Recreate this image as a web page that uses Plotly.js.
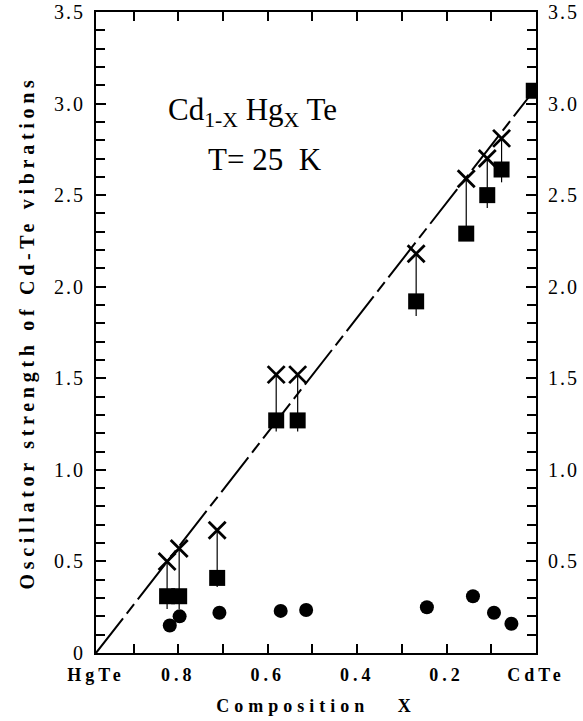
<!DOCTYPE html>
<html>
<head>
<meta charset="utf-8">
<script src="https://cdn.plot.ly/plotly-3.0.1.min.js"></script>
<style>
  html, body { margin: 0; padding: 0; background: #fff; }
  #chart { width: 583px; height: 721px; }
  .xtick text { letter-spacing: 4px; font-family: 'Liberation Serif', serif !important; font-weight: bold !important; }
  .ytick text, .y2tick text { letter-spacing: 2px; font-family: 'Liberation Serif', serif !important; }
  text.xtitle { letter-spacing: 5px; font-family: 'Liberation Serif', serif !important; font-weight: bold !important; }
  text.ytitle { letter-spacing: 4.7px; font-family: 'Liberation Serif', serif !important; font-weight: bold !important; }
  .annotation-text { font-family: 'Liberation Serif', serif !important; }
</style>
</head>
<body>
<div id="chart"></div>
<script>
// Composition X (1 = HgTe, 0 = CdTe)
var crossX  = [0.825, 0.798, 0.713, 0.581, 0.533, 0.268, 0.156, 0.109, 0.077];
var crossY  = [0.50, 0.57, 0.67, 1.52, 1.52, 2.18, 2.59, 2.70, 2.81];

var squareX = [0.825, 0.798, 0.713, 0.581, 0.533, 0.268, 0.156, 0.109, 0.077, 0.005];
var squareY = [0.31, 0.31, 0.41, 1.27, 1.27, 1.92, 2.29, 2.50, 2.64, 3.07];
var squareLow = [0.24, 0.24, 0.36, 1.21, 1.21, 1.84, 2.29, 2.43, 2.57, 3.07];

var circleX = [0.819, 0.797, 0.708, 0.571, 0.514, 0.244, 0.141, 0.094, 0.055];
var circleY = [0.15, 0.20, 0.22, 0.23, 0.235, 0.25, 0.31, 0.22, 0.16];

var fitX = [0.984, 0.005];
var fitY = [0, 3.07];

var xTickVals = [0.984, 0.8, 0.6, 0.4, 0.2, 0];
var xTickText = ['HgTe', '0.8', '0.6', '0.4', '0.2', 'CdTe'];
var yTickVals = [0, 0.5, 1.0, 1.5, 2.0, 2.5, 3.0, 3.5];
var yTickText = ['0', '0.5', '1.0', '1.5', '2.0', '2.5', '3.0', '3.5'];
var y2TickVals = [0.5, 1.0, 1.5, 2.0, 2.5, 3.0, 3.5];
var y2TickText = ['0.5', '1.0', '1.5', '2.0', '2.5', '3.0', '3.5'];

// vertical connectors: from cross down to the lower end below each square
var connX = [], connY = [];
for (var i = 0; i < crossX.length; i++) {
  connX.push(crossX[i], crossX[i], null);
  connY.push(crossY[i], squareLow[i], null);
}

var serif = 'Liberation Serif';

var traces = [
  { x: fitX, y: fitY, mode: 'lines', type: 'scatter',
    line: { color: '#000', width: 2, dash: '44px,6px,12px,6px' },
    hoverinfo: 'skip', showlegend: false },
  { x: connX, y: connY, mode: 'lines', type: 'scatter',
    line: { color: '#000', width: 1.2 }, hoverinfo: 'skip', showlegend: false },
  { x: squareX, y: squareY, mode: 'markers', type: 'scatter',
    marker: { symbol: 'square', size: 16, color: '#000' }, showlegend: false },
  { x: crossX, y: crossY, mode: 'markers', type: 'scatter',
    marker: { symbol: 'x-thin', size: 17, line: { color: '#000', width: 2.8 } }, showlegend: false },
  { x: circleX, y: circleY, mode: 'markers', type: 'scatter',
    marker: { symbol: 'circle', size: 14, color: '#000' }, showlegend: false },
  { x: [null], y: [null], yaxis: 'y2', mode: 'markers', type: 'scatter',
    hoverinfo: 'skip', showlegend: false }
];

var layout = {
  width: 583, height: 721,
  margin: { l: 96, r: 47, t: 12, b: 68 },
  paper_bgcolor: '#fff', plot_bgcolor: '#fff',
  showlegend: false,
  xaxis: {
    range: [0.984, 0], autorange: false,
    tickvals: xTickVals, ticktext: xTickText,
    ticks: 'inside', ticklen: 9, tickwidth: 2, tickcolor: '#000',
    minor: { dtick: 0.1, tick0: 0, ticks: 'inside', ticklen: 9, tickwidth: 2, tickcolor: '#000' },
    showline: true, linecolor: '#000', linewidth: 2, mirror: 'allticks',
    showgrid: false, zeroline: false, ticklabelstandoff: 4,
    tickfont: { family: serif, size: 18, color: '#000', weight: 'bold' },
    title: { text: 'Composition\u00a0\u00a0\u00a0X', font: { family: serif, size: 18, color: '#000', weight: 'bold' }, standoff: 16 }
  },
  yaxis: {
    range: [0, 3.5], autorange: false,
    tickvals: yTickVals, ticktext: yTickText,
    ticks: 'inside', ticklen: 10, tickwidth: 2, tickcolor: '#000',
    minor: { dtick: 0.1, tick0: 0, ticks: 'inside', ticklen: 9, tickwidth: 2, tickcolor: '#000' },
    showline: true, linecolor: '#000', linewidth: 2,
    showgrid: false, zeroline: false, ticklabelstandoff: 5,
    tickfont: { family: serif, size: 20, color: '#000' },
    title: { text: 'Oscillator strength of Cd-Te vibrations', font: { family: serif, size: 20, color: '#000', weight: 'bold' }, standoff: 14 }
  },
  yaxis2: {
    overlaying: 'y', side: 'right',
    range: [0, 3.5], autorange: false,
    tickvals: y2TickVals, ticktext: y2TickText,
    ticks: 'inside', ticklen: 10, tickwidth: 2, tickcolor: '#000',
    minor: { dtick: 0.1, tick0: 0, ticks: 'inside', ticklen: 9, tickwidth: 2, tickcolor: '#000' },
    showline: true, linecolor: '#000', linewidth: 2,
    showgrid: false, zeroline: false, ticklabelstandoff: 6,
    tickfont: { family: serif, size: 20, color: '#000' }
  },
  annotations: [
    { xref: 'paper', yref: 'paper', x: 0.355, y: 0.878, showarrow: false,
      text: 'Cd<sub>1-X</sub> Hg<sub>X</sub> Te',
      font: { family: serif, size: 31, color: '#000' } },
    { xref: 'paper', yref: 'paper', x: 0.385, y: 0.80, showarrow: false,
      text: 'T= 25  K',
      font: { family: serif, size: 31, color: '#000' } }
  ]
};

Plotly.newPlot('chart', traces, layout, { displayModeBar: false, staticPlot: true });
</script>
</body>
</html>
